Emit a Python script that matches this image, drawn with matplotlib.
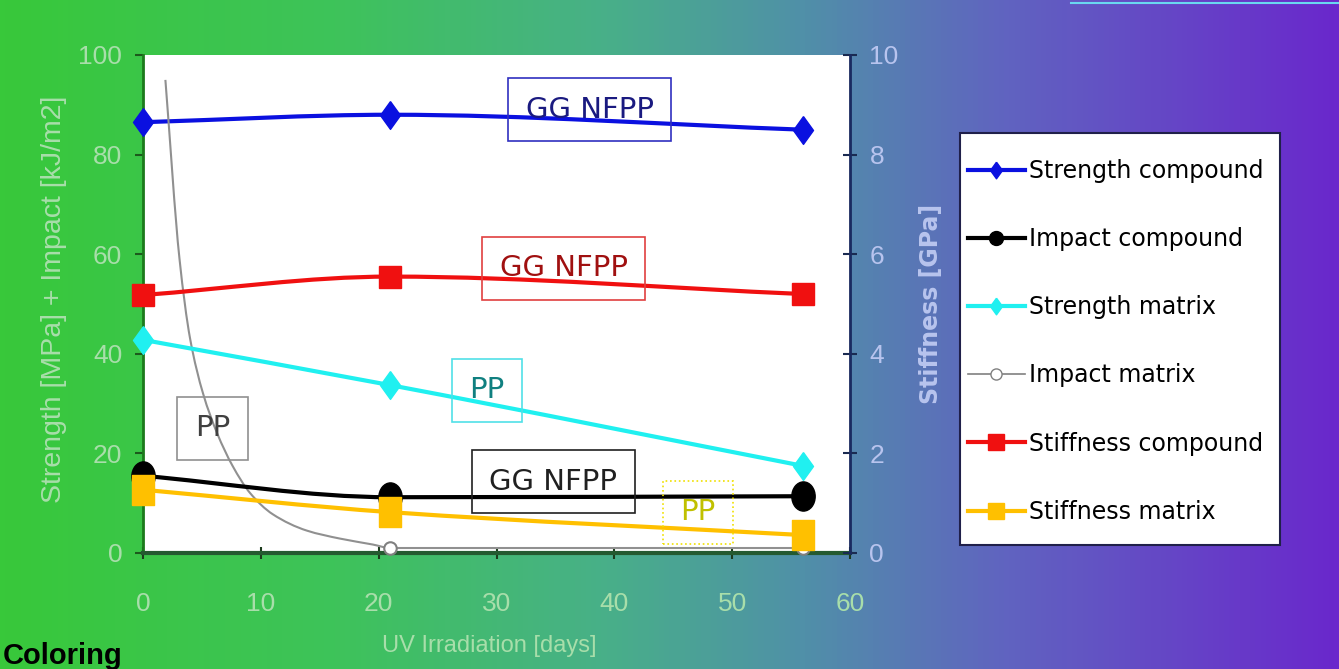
import numpy as np
import matplotlib
matplotlib.use('Agg')
import matplotlib.pyplot as plt
from matplotlib.path import Path
from matplotlib.patches import PathPatch, Rectangle
from matplotlib.lines import Line2D
from matplotlib.colors import LinearSegmentedColormap

plt.rcParams['font.family'] = ['Liberation Sans', 'DejaVu Sans']

# data
days = [0, 21, 56]
strength_compound = [86.5, 88.0, 85.0]
impact_compound = [15.5, 11.2, 11.4]
strength_matrix = [42.8, 33.7, 17.5]
impact_matrix_days = [21, 56]
impact_matrix = [1.0, 1.0]
# steep grey decay of the matrix impact curve
impact_curve_days = [1.9, 3.1, 4.0, 5.1, 6.3, 7.6, 9.1, 11.0, 13.9, 16.7, 19.5, 21, 56]
impact_curve = [95, 59, 43, 32, 24, 17.5, 12, 7.8, 4.5, 2.9, 1.7, 1.0, 1.0]
stiffness_compound = [5.18, 5.55, 5.2]   # GPa, right axis
stiffness_matrix = [1.27, 0.82, 0.36]    # GPa, right axis

legend_labels = ['Strength compound', 'Impact compound', 'Strength matrix',
                 'Impact matrix', 'Stiffness compound', 'Stiffness matrix']


def smooth_path(x, y):
    # smoothed line drawn as cubic hermite pieces (pchip slopes, no overshoot)
    x = np.asarray(x, float)
    y = np.asarray(y, float)
    h = np.diff(x)
    d = np.diff(y) / h
    m = np.zeros_like(y)
    m[0], m[-1] = d[0], d[-1]
    for i in range(1, len(y) - 1):
        if d[i - 1] * d[i] > 0:
            w1 = 2 * h[i] + h[i - 1]
            w2 = h[i] + 2 * h[i - 1]
            m[i] = (w1 + w2) / (w1 / d[i - 1] + w2 / d[i])
    verts = [(x[0], y[0])]
    codes = [Path.MOVETO]
    for i in range(len(x) - 1):
        verts += [(x[i] + h[i] / 3, y[i] + m[i] * h[i] / 3),
                  (x[i + 1] - h[i] / 3, y[i + 1] - m[i + 1] * h[i] / 3),
                  (x[i + 1], y[i + 1])]
        codes += [Path.CURVE4] * 3
    return Path(verts, codes)


tall_diamond = [(0, 1), (0.72, 0), (0, -1), (-0.72, 0), (0, 1)]
tall_rect = [(-0.75, -1), (0.75, -1), (0.75, 1), (-0.75, 1), (-0.75, -1)]
circ = Path.unit_circle()
tall_circle = Path(circ.vertices * np.array([0.8, 1.0]), circ.codes)

fig = plt.figure(figsize=(13.39, 6.69), dpi=100)

# gradient background
bg = fig.add_axes([0, 0, 1, 1], zorder=-10)
cmap = LinearSegmentedColormap.from_list('bg', [
    (0.0, '#38c83a'), (0.25, '#3ec35a'), (0.45, '#48b088'),
    (0.6, '#5090a8'), (0.75, '#6064c0'), (1.0, '#6a28cc')])
bg.imshow(np.linspace(0, 1, 256).reshape(1, -1), aspect='auto', cmap=cmap,
          extent=[0, 1, 0, 1])
bg.set_xlim(0, 1)
bg.set_ylim(0, 1)
bg.axis('off')
bg.plot([0.8, 1.0], [0.996, 0.996], color='#6ad8f0', lw=1.5)

ax = fig.add_axes([0.1068, 0.1734, 0.528, 0.7444])
ax2 = ax.twinx()
ax.set_facecolor('white')
ax.set_zorder(1)
ax2.set_zorder(2)

lw = 3
ax.add_patch(PathPatch(smooth_path(days, strength_compound), fill=False,
                       edgecolor='#0a10e0', lw=lw, zorder=3))
ax.plot(days, strength_compound, ls='none', marker=tall_diamond, ms=20,
        color='#0a10e0', zorder=4, clip_on=False)

ax.add_patch(PathPatch(smooth_path(impact_curve_days, impact_curve), fill=False,
                       edgecolor='#909090', lw=1.5, zorder=3))
ax.plot(impact_matrix_days, impact_matrix, ls='none', marker='o', ms=9,
        mfc='white', mec='#808080', mew=1.5, zorder=4, clip_on=False)

ax.add_patch(PathPatch(smooth_path(days, strength_matrix), fill=False,
                       edgecolor='#20f0f0', lw=lw, zorder=3))
ax.plot(days, strength_matrix, ls='none', marker=tall_diamond, ms=20,
        color='#20f0f0', zorder=4, clip_on=False)

ax.add_patch(PathPatch(smooth_path(days, impact_compound), fill=False,
                       edgecolor='black', lw=lw, zorder=3))
ax.plot(days, impact_compound, ls='none', marker=tall_circle, ms=21,
        color='black', zorder=4, clip_on=False)

ax2.add_patch(PathPatch(smooth_path(days, stiffness_compound), fill=False,
                        edgecolor='#f01010', lw=lw, zorder=3))
ax2.plot(days, stiffness_compound, ls='none', marker='s', ms=16,
         color='#f01010', zorder=4, clip_on=False)

ax2.add_patch(PathPatch(smooth_path(days, stiffness_matrix), fill=False,
                        edgecolor='#ffc000', lw=lw, zorder=3))
ax2.plot(days, stiffness_matrix, ls='none', marker=tall_rect, ms=21,
         color='#ffc000', zorder=4, clip_on=False)

ax.set_xlim(0, 60)
ax.set_ylim(0, 100)
ax2.set_ylim(0, 10)
ax.set_xticks(range(0, 61, 10))
ax.set_yticks(range(0, 101, 20))
ax2.set_yticks(range(0, 11, 2))

green_txt = '#a8deaa'
blue_txt = '#b8c4ee'
ax.tick_params(axis='y', colors='#1c5a1c', labelcolor=green_txt, labelsize=19,
               direction='out', length=6, width=1.5, pad=9)
ax.tick_params(axis='x', colors='#1c3a1c', labelcolor=green_txt, labelsize=19,
               direction='inout', length=8, width=1.5, pad=24)
ax2.tick_params(axis='y', colors='#1a2a50', labelcolor=blue_txt, labelsize=19,
                direction='inout', length=10, width=1.5, pad=9)
for a in (ax, ax2):
    a.spines['top'].set_visible(False)
ax.spines['left'].set_color('#1c7a1c')
ax.spines['left'].set_linewidth(2)
ax.spines['bottom'].set_color('#245a30')
ax.spines['bottom'].set_linewidth(3)
ax2.spines['right'].set_color('#1a2a60')
ax2.spines['right'].set_linewidth(2)
ax2.spines['left'].set_visible(False)
ax2.spines['bottom'].set_visible(False)

ax.set_ylabel('Strength [MPa] + Impact [kJ/m2]', color=green_txt, fontsize=20.5)
ax.yaxis.set_label_coords(-0.107, 0.51)
ax.set_xlabel('UV Irradiation [days]', color=green_txt, fontsize=17)
ax.xaxis.set_label_coords(0.49, -0.165)
ax2.set_ylabel('Stiffness [GPa]', color=blue_txt, fontsize=17,
               fontweight='bold', family=['DejaVu Sans'])
ax2.yaxis.set_label_coords(1.097, 0.5)

# labels in the plot
notes = [
    (37.9, 89.0, 'GG NFPP', '#1a1a80', '#3030c0', '-'),
    (35.7, 57.2, 'GG NFPP', '#a01010', '#e04040', '-'),
    (29.2, 32.7, 'PP', '#108080', '#50e0e8', '-'),
    (5.9, 25.0, 'PP', '#404040', '#909090', '-'),
    (34.8, 14.3, 'GG NFPP', '#202020', '#202020', '-'),
    (47.1, 8.2, 'PP', '#c0c000', '#f0e000', ':'),
]
for x, y, s, tc, ec, ls in notes:
    ax2.text(x, y / 10, s, color=tc, fontsize=21, ha='center', va='center',
             family=['DejaVu Sans'], zorder=5,
             bbox=dict(boxstyle='square,pad=0.6', fc='none', ec=ec, lw=1.2,
                       ls=ls))

# legend box
fig.patches.append(Rectangle((960 / 1339, 1 - 545 / 669), 320 / 1339, 412 / 669,
                             transform=fig.transFigure, fc='white',
                             ec='#20204a', lw=1.5, zorder=1))
handles = [
    Line2D([], [], color='#0a10e0', lw=3, marker=tall_diamond, ms=12),
    Line2D([], [], color='black', lw=3, marker='o', ms=10),
    Line2D([], [], color='#20f0f0', lw=3, marker=tall_diamond, ms=12),
    Line2D([], [], color='#808080', lw=1.2, marker='o', ms=8, mfc='white'),
    Line2D([], [], color='#f01010', lw=3, marker='s', ms=11),
    Line2D([], [], color='#ffc000', lw=3, marker='s', ms=11),
]
leg = fig.legend(handles, legend_labels, loc='upper left',
                 bbox_to_anchor=(968 / 1339, 1 - 159 / 669),
                 prop={'family': 'DejaVu Sans', 'size': 17},
                 frameon=False, labelspacing=1.87, handlelength=2.4,
                 handletextpad=0.2, borderpad=0, borderaxespad=0)

fig.text(3 / 1339, 5 / 669, 'Coloring', fontsize=21, fontweight='bold',
         family=['Liberation Sans', 'DejaVu Sans'], va='baseline', ha='left')

fig.savefig('out.png', dpi=100)
